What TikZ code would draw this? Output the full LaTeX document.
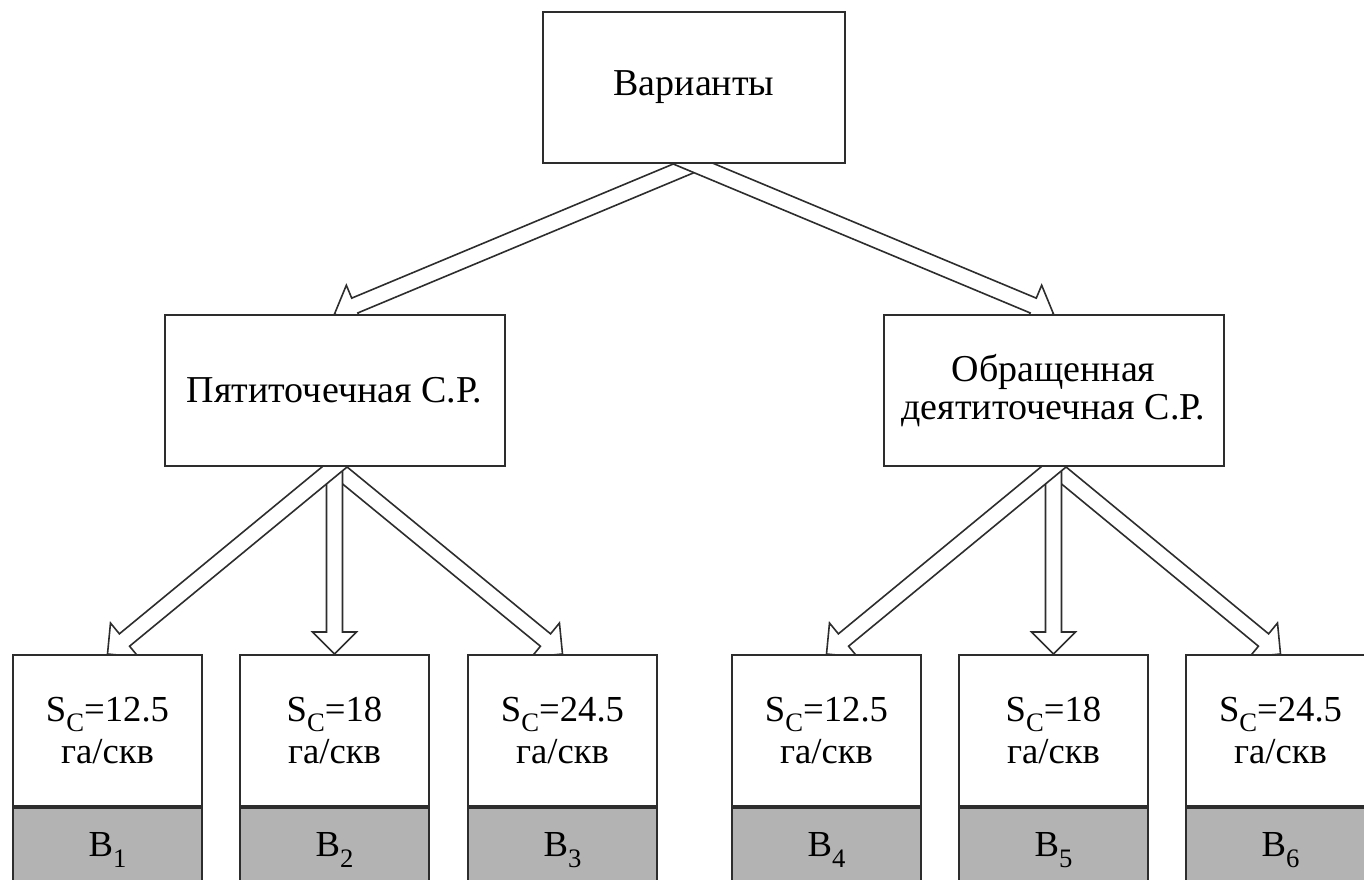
\documentclass[tikz,border=0pt]{standalone}
\usepackage{fontspec}
\setmainfont{Liberation Serif}
\usetikzlibrary{calc}
\pgfdeclarelayer{bg}
\pgfsetlayers{bg,main}
\definecolor{boxgray}{RGB}{179,179,179}
\definecolor{linec}{RGB}{45,45,45}
\newcommand\subx[1]{\raisebox{-8pt}{\fontsize{20}{20}\selectfont #1}}
\newcommand\harrow[2]{%
  \coordinate (hS) at ($(#1)!-15pt!(#2)$);
  \coordinate (hH) at ($(#2)!16.5pt!(#1)$);
  \filldraw[arr] ($(hS)!6pt!90:(#2)$) -- ($(hH)!6pt!90:(#2)$) -- ($(hH)!16.5pt!90:(#2)$) -- (#2)
    -- ($(hH)!16.5pt!-90:(#2)$) -- ($(hH)!6pt!-90:(#2)$) -- ($(hS)!6pt!-90:(#2)$) -- cycle;}
\begin{document}
\begin{tikzpicture}[x=0.75pt,y=-0.75pt,
  box/.style={draw=linec, line width=1.5pt, fill=white, inner sep=0pt, align=center,
    minimum height=113.25pt, font=\fontsize{28.5}{28}\selectfont},
  topbox/.style={box, minimum width=226.5pt},
  midbox/.style={box, minimum width=255pt},
  sbox/.style={box, minimum width=141.75pt, font=\fontsize{27.5}{32}\selectfont},
  gbox/.style={box, fill=boxgray, minimum width=141.75pt, minimum height=63pt, anchor=north,
    font=\fontsize{27.5}{30}\selectfont},
  arr/.style={draw=linec, fill=white, line width=1.2pt, line join=miter}]
\useasboundingbox (0,0) rectangle (1364,880);
\clip (0,0) rectangle (1364,880);
% nodes
\node[topbox] (top) at (694,87.5) {Варианты};
\node[midbox] (p5) at (334.5,390.5) {Пятиточечная С.Р.};
\node[midbox, font=\fontsize{28.5}{28}\selectfont] (p9) at (1053.5,390.5) {Обращенная\\деятиточечная С.Р.};
\node[sbox] (s1) at (107.5,730.5) {S\subx{C}=12.5\\га/скв};
\node[sbox] (s2) at (334.5,730.5) {S\subx{C}=18\\га/скв};
\node[sbox] (s3) at (562.5,730.5) {S\subx{C}=24.5\\га/скв};
\node[sbox] (s4) at (826.5,730.5) {S\subx{C}=12.5\\га/скв};
\node[sbox] (s5) at (1053.5,730.5) {S\subx{C}=18\\га/скв};
\node[sbox] (s6) at (1280.5,730.5) {S\subx{C}=24.5\\га/скв};
\node[gbox] (b1) at (s1.south) {В\subx{1}};
\node[gbox] (b2) at (s2.south) {В\subx{2}};
\node[gbox] (b3) at (s3.south) {В\subx{3}};
\node[gbox] (b4) at (s4.south) {В\subx{4}};
\node[gbox] (b5) at (s5.south) {В\subx{5}};
\node[gbox] (b6) at (s6.south) {В\subx{6}};
% connectors
\begin{pgfonlayer}{bg}
\harrow{top.south}{p5.north}
\harrow{top.south}{p9.north}
\harrow{p5.south}{s3.north}
\harrow{p5.south}{s2.north}
\harrow{p5.south}{s1.north}
\harrow{p9.south}{s6.north}
\harrow{p9.south}{s5.north}
\harrow{p9.south}{s4.north}
\end{pgfonlayer}
\end{tikzpicture}
\end{document}
